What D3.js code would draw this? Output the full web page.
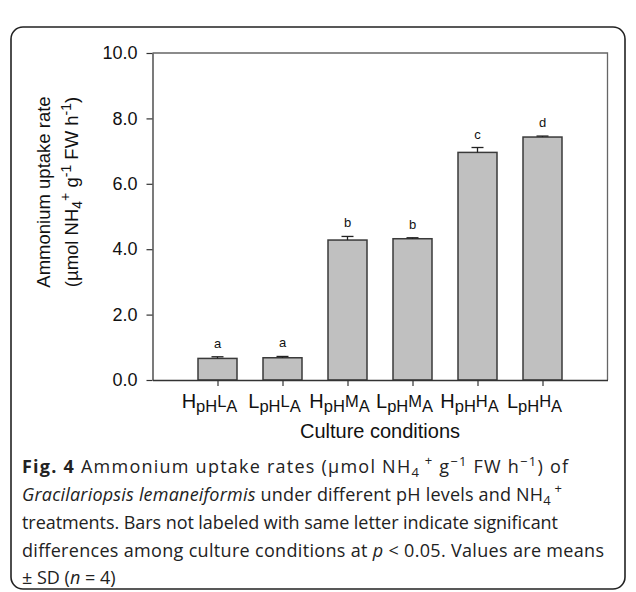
<!DOCTYPE html>
<html lang="en">
<head>
<meta charset="utf-8">
<title>Ammonium uptake rates</title>
<script src="https://d3js.org/d3.v7.min.js"></script>
<style>
  body { margin: 0; background: #fff; }
  svg text { font-family: "Liberation Sans", Arial, sans-serif; fill: #111; }
  svg text.cap { font-family: "Open Sans", sans-serif; fill: #222; }
</style>
</head>
<body>
<div id="mainDiv"></div>
<script>
const width = 636
const height = 592

// data
const conditions = [
  ['H', 'pH', 'L', 'A'],
  ['L', 'pH', 'L', 'A'],
  ['H', 'pH', 'M', 'A'],
  ['L', 'pH', 'M', 'A'],
  ['H', 'pH', 'H', 'A'],
  ['L', 'pH', 'H', 'A']
]
const uptake = [0.66, 0.68, 4.28, 4.32, 6.96, 7.43]
const sd = [0.05, 0.04, 0.11, 0.03, 0.15, 0.03]
const letters = ['a', 'a', 'b', 'b', 'c', 'd']
const yTicks = [0, 2, 4, 6, 8, 10]

const svg = d3.select('#mainDiv').append('svg')
  .attr('width', width)
  .attr('height', height)

// rounded frame round figure + caption
svg.append('rect')
  .attr('x', 11).attr('y', 27)
  .attr('width', 614).attr('height', 562)
  .attr('rx', 12)
  .attr('fill', 'none')
  .attr('stroke', '#222')
  .attr('stroke-width', 1.6)

const plotL = 152.5, plotR = 607.5, plotT = 53, plotB = 380

// positions 1..6 on an axis running 0..7
const x = d3.scaleLinear().domain([0, 7]).range([plotL, plotR])
const y = d3.scaleLinear().domain([0, 10]).range([plotB, plotT])
const barW = x(0.6) - x(0)

const g = svg.append('g')

// top and right frame lines
g.append('path')
  .attr('d', `M${plotL},${plotT}H${plotR}V${plotB}`)
  .attr('fill', 'none')
  .attr('stroke', '#666')
  .attr('stroke-width', 1.3)

// bars
g.selectAll('rect.bar')
  .data(uptake)
  .join('rect')
  .attr('class', 'bar')
  .attr('x', (d, i) => x(i + 1) - barW / 2)
  .attr('y', d => y(d))
  .attr('width', barW)
  .attr('height', d => y(0) - y(d))
  .attr('fill', '#c0c0c0')
  .attr('stroke', '#3a3a3a')
  .attr('stroke-width', 1.5)

// error bars (upper half only)
const err = g.selectAll('g.err')
  .data(uptake)
  .join('g')
  .attr('class', 'err')
  .attr('stroke', '#222')
  .attr('stroke-width', 1.3)
err.append('line')
  .attr('x1', (d, i) => x(i + 1)).attr('x2', (d, i) => x(i + 1))
  .attr('y1', d => y(d)).attr('y2', (d, i) => y(d + sd[i]))
err.append('line')
  .attr('x1', (d, i) => x(i + 1) - 6).attr('x2', (d, i) => x(i + 1) + 6)
  .attr('y1', (d, i) => y(d + sd[i])).attr('y2', (d, i) => y(d + sd[i]))

// significance letters
g.selectAll('text.sig')
  .data(uptake)
  .join('text')
  .attr('class', 'sig')
  .attr('x', (d, i) => x(i + 1))
  .attr('y', (d, i) => y(d + sd[i]) - 9)
  .attr('text-anchor', 'middle')
  .style('font-size', '13px')
  .text((d, i) => letters[i])

// y axis
const yAxis = d3.axisLeft(y)
  .tickValues(yTicks)
  .tickFormat(d3.format('.1f'))
  .tickSize(6)
  .tickSizeOuter(0)
  .tickPadding(9)
const ya = g.append('g')
  .attr('transform', `translate(${plotL},0)`)
  .call(yAxis)
ya.select('.domain').attr('stroke', '#333').attr('stroke-width', 1.3)
ya.selectAll('.tick line').attr('stroke', '#333').attr('stroke-width', 1.2)
ya.selectAll('.tick text').style('font-size', '18px').attr('fill', '#111')

// x axis
const xAxis = d3.axisBottom(x)
  .tickValues(d3.range(1, 7))
  .tickFormat('')
  .tickSize(6)
  .tickSizeOuter(0)
const xa = g.append('g')
  .attr('transform', `translate(0,${plotB})`)
  .call(xAxis)
xa.select('.domain').attr('stroke', '#333').attr('stroke-width', 1.3)
xa.selectAll('.tick line').attr('stroke', '#333').attr('stroke-width', 1.2)

// condition labels with sub/superscript pieces
const lab = g.selectAll('text.cond')
  .data(conditions)
  .join('text')
  .attr('class', 'cond')
  .attr('x', (d, i) => x(i + 1) - 8)
  .attr('y', 408)
  .attr('text-anchor', 'middle')
lab.append('tspan').style('font-size', '20px').text(d => d[0])
lab.append('tspan').style('font-size', '16.5px').attr('dy', 4).text(d => d[1])
lab.append('tspan').style('font-size', '16.5px').attr('dy', -5).text(d => d[2])
lab.append('tspan').style('font-size', '16.5px').attr('dy', 5).text(d => d[3])

g.append('text')
  .attr('x', (plotL + plotR) / 2)
  .attr('y', 438)
  .attr('text-anchor', 'middle')
  .style('font-size', '20px')
  .text('Culture conditions')

// y axis title
const yt = g.append('text')
  .attr('transform', 'translate(50,192) rotate(-90)')
  .attr('text-anchor', 'middle')
  .style('font-size', '18.5px')
yt.append('tspan').attr('x', 0).attr('y', 0).text('Ammonium uptake rate')
const yt2 = g.append('text')
  .attr('transform', 'translate(78,192) rotate(-90)')
  .attr('text-anchor', 'middle')
  .style('font-size', '18.5px')
yt2.append('tspan').text('(µmol NH')
yt2.append('tspan').style('font-size', '14px').attr('dy', 4).text('4')
yt2.append('tspan').style('font-size', '14px').attr('dy', -12).text('+')
yt2.append('tspan').attr('dy', 8).text(' g')
yt2.append('tspan').style('font-size', '14px').attr('dy', -7).text('-1')
yt2.append('tspan').attr('dy', 7).text(' FW h')
yt2.append('tspan').style('font-size', '14px').attr('dy', -7).text('-1')
yt2.append('tspan').attr('dy', 7).text(')')

// caption, each line stretched to the width it has in the figure
const cap = svg.append('g').style('font-size', '18px')
const capX = 22
const capLine = (yy, w) => cap.append('text').attr('class', 'cap')
  .attr('x', capX).attr('y', yy)
  .attr('textLength', w).attr('lengthAdjust', 'spacing')

const l1 = capLine(473, 546)
l1.append('tspan').style('font-weight', 'bold').text('Fig. 4')
l1.append('tspan').text(' Ammonium uptake rates (µmol NH')
l1.append('tspan').style('font-size', '13px').attr('dy', 4).text('4')
l1.append('tspan').style('font-size', '13px').attr('dy', -12).text(' +')
l1.append('tspan').attr('dy', 8).text(' g')
l1.append('tspan').style('font-size', '13px').attr('dy', -7).text('\u22121')
l1.append('tspan').attr('dy', 7).text(' FW h')
l1.append('tspan').style('font-size', '13px').attr('dy', -7).text('\u22121')
l1.append('tspan').attr('dy', 7).text(') of')

const l2 = capLine(501, 540)
l2.append('tspan').style('font-style', 'italic').text('Gracilariopsis lemaneiformis')
l2.append('tspan').text(' under different pH levels and NH')
l2.append('tspan').style('font-size', '13px').attr('dy', 4).text('4')
l2.append('tspan').style('font-size', '13px').attr('dy', -12).text(' +')

capLine(529, 536)
  .text('treatments. Bars not labeled with same letter indicate significant')

const l4 = capLine(557, 582)
l4.append('tspan').text('differences among culture conditions at ')
l4.append('tspan').style('font-style', 'italic').text('p')
l4.append('tspan').text(' < 0.05. Values are means')

const l5 = cap.append('text').attr('class', 'cap').attr('x', capX).attr('y', 584)
l5.append('tspan').text('± SD (')
l5.append('tspan').style('font-style', 'italic').text('n')
l5.append('tspan').text(' = 4)')
</script>
</body>
</html>
